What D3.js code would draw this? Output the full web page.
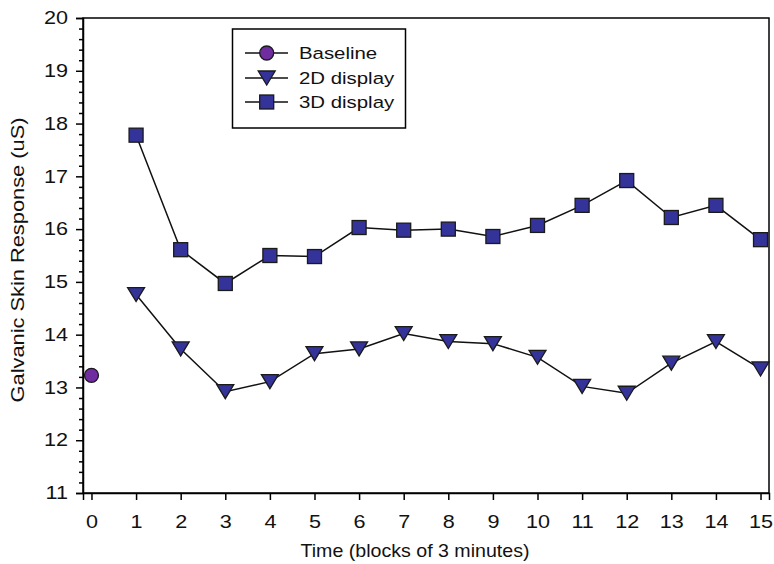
<!DOCTYPE html>
<html>
<head>
<meta charset="utf-8">
<script src="https://cdn.jsdelivr.net/npm/d3@7/dist/d3.min.js"></script>
<style>
  html, body { margin: 0; padding: 0; background: #fff; }
  svg { display: block; font-family: "Liberation Sans", Arial, Helvetica, sans-serif; }
</style>
</head>
<body>
<svg id="chart" width="774" height="564"></svg>
<script>
// Galvanic skin response per 3-minute block
const blocks = [1, 2, 3, 4, 5, 6, 7, 8, 9, 10, 11, 12, 13, 14, 15];
const baselineBlock = [0];
const baselineValues = [13.23];
const values2D = [14.76, 13.73, 12.92, 13.11, 13.64, 13.73, 14.02, 13.87, 13.83, 13.57, 13.02, 12.89, 13.46, 13.87, 13.35];
const values3D = [17.78, 15.61, 14.97, 15.50, 15.48, 16.03, 15.98, 16.00, 15.86, 16.07, 16.45, 16.92, 16.22, 16.45, 15.80];
const xTicks = [0, 1, 2, 3, 4, 5, 6, 7, 8, 9, 10, 11, 12, 13, 14, 15];
const yTicks = [11, 12, 13, 14, 15, 16, 17, 18, 19, 20];
const legendLabels = ["Baseline", "2D display", "3D display"];

const svg = d3.select("#chart");
const plotL = 83, plotR = 769, plotT = 18, plotB = 493;

const x = d3.scaleLinear().domain([-0.19, 15.19]).range([plotL, plotR]);
const y = d3.scaleLinear().domain([11, 20]).range([plotB, plotT]);

const blue = "#333399";
const purple = "#6f2da0";
const edge = "#1a1a1a";

// widen a text element about its anchor point
function stretch(sel, k) {
  sel.each(function () {
    const t = d3.select(this);
    const ax = +t.attr("x") || 0;
    const prev = t.attr("transform") || "";
    t.attr("transform", `${prev} translate(${ax},0) scale(${k},1) translate(${-ax},0)`);
  });
}

// frame
svg.append("rect")
  .attr("x", plotL).attr("y", plotT)
  .attr("width", plotR - plotL).attr("height", plotB - plotT)
  .attr("fill", "none").attr("stroke", "#000").attr("stroke-width", 1.5);

// y axis with minor ticks every 0.2
const yMinor = d3.range(11, 20.001, 0.2).filter(v => Math.abs(v - Math.round(v)) > 1e-6);
const yAxisG = svg.append("g").attr("transform", `translate(${plotL},0)`);
yAxisG.call(d3.axisLeft(y).tickValues(yTicks).tickFormat(d3.format("d")).tickSize(7).tickPadding(8));
yAxisG.append("g").call(d3.axisLeft(y).tickValues(yMinor).tickFormat("").tickSize(4))
  .select(".domain").remove();
yAxisG.selectAll("text").attr("font-size", 18).attr("fill", "#111")
  .attr("font-family", "Liberation Sans, Arial, sans-serif").call(stretch, 1.2);
yAxisG.selectAll("line").attr("stroke-width", 1.5);
yAxisG.selectAll(".domain").attr("stroke-width", 1.5);

// x axis
const xAxisG = svg.append("g").attr("transform", `translate(0,${plotB})`);
xAxisG.call(d3.axisBottom(x).tickValues(xTicks).tickFormat(d3.format("d")).tickSize(7).tickPadding(15));
xAxisG.selectAll("text").attr("font-size", 18).attr("fill", "#111")
  .attr("font-family", "Liberation Sans, Arial, sans-serif").call(stretch, 1.2);
xAxisG.selectAll("line").attr("stroke-width", 1.5);
xAxisG.selectAll(".domain").attr("stroke-width", 1.5);

// axis titles
svg.append("text")
  .attr("x", 415).attr("y", 557)
  .attr("text-anchor", "middle").attr("font-size", 18.5).attr("fill", "#111")
  .text("Time (blocks of 3 minutes)").call(stretch, 1.06);
svg.append("text")
  .attr("transform", `translate(24,260) rotate(-90)`)
  .attr("text-anchor", "middle").attr("font-size", 18.5).attr("fill", "#111")
  .text("Galvanic Skin Response (uS)").call(stretch, 1.18);

// series lines
const line = d3.line().x(d => x(d[0])).y(d => y(d[1]));
const pts2D = blocks.map((b, i) => [b, values2D[i]]);
const pts3D = blocks.map((b, i) => [b, values3D[i]]);
[pts3D, pts2D].forEach(pts => {
  svg.append("path").datum(pts).attr("d", line)
    .attr("fill", "none").attr("stroke", "#111").attr("stroke-width", 1.5);
});

// marker shapes
const triPath = (w, h) => `M${-w / 2},${-h / 2}L${w / 2},${-h / 2}L0,${h / 2}Z`;
const sq = 14;

function drawSquare(g, cx, cy) {
  g.append("rect").attr("x", cx - sq / 2).attr("y", cy - sq / 2)
    .attr("width", sq).attr("height", sq)
    .attr("fill", blue).attr("stroke", edge).attr("stroke-width", 1.3);
}
function drawTriangle(g, cx, cy) {
  g.append("path").attr("d", triPath(17, 14))
    .attr("transform", `translate(${cx},${cy})`)
    .attr("fill", blue).attr("stroke", edge).attr("stroke-width", 1.3);
}
function drawCircle(g, cx, cy) {
  g.append("circle").attr("cx", cx).attr("cy", cy).attr("r", 7)
    .attr("fill", purple).attr("stroke", edge).attr("stroke-width", 1.3);
}

const marks = svg.append("g");
pts3D.forEach(d => drawSquare(marks, x(d[0]), y(d[1])));
pts2D.forEach(d => drawTriangle(marks, x(d[0]), y(d[1])));
baselineBlock.forEach((b, i) => drawCircle(marks, x(b), y(baselineValues[i])));

// legend
const lg = svg.append("g");
lg.append("rect").attr("x", 232.5).attr("y", 29).attr("width", 173).attr("height", 99)
  .attr("fill", "#fff").attr("stroke", "#000").attr("stroke-width", 1.5);
const rowY = [53, 78, 102];
const drawers = [drawCircle, drawTriangle, drawSquare];
legendLabels.forEach((label, i) => {
  lg.append("line").attr("x1", 245).attr("x2", 288).attr("y1", rowY[i]).attr("y2", rowY[i])
    .attr("stroke", "#111").attr("stroke-width", 1.5);
  drawers[i](lg, 266.7, rowY[i]);
  lg.append("text").attr("x", 299).attr("y", rowY[i] + 6)
    .attr("font-size", 17).attr("fill", "#111").text(label).call(stretch, 1.2);
});
</script>
</body>
</html>
